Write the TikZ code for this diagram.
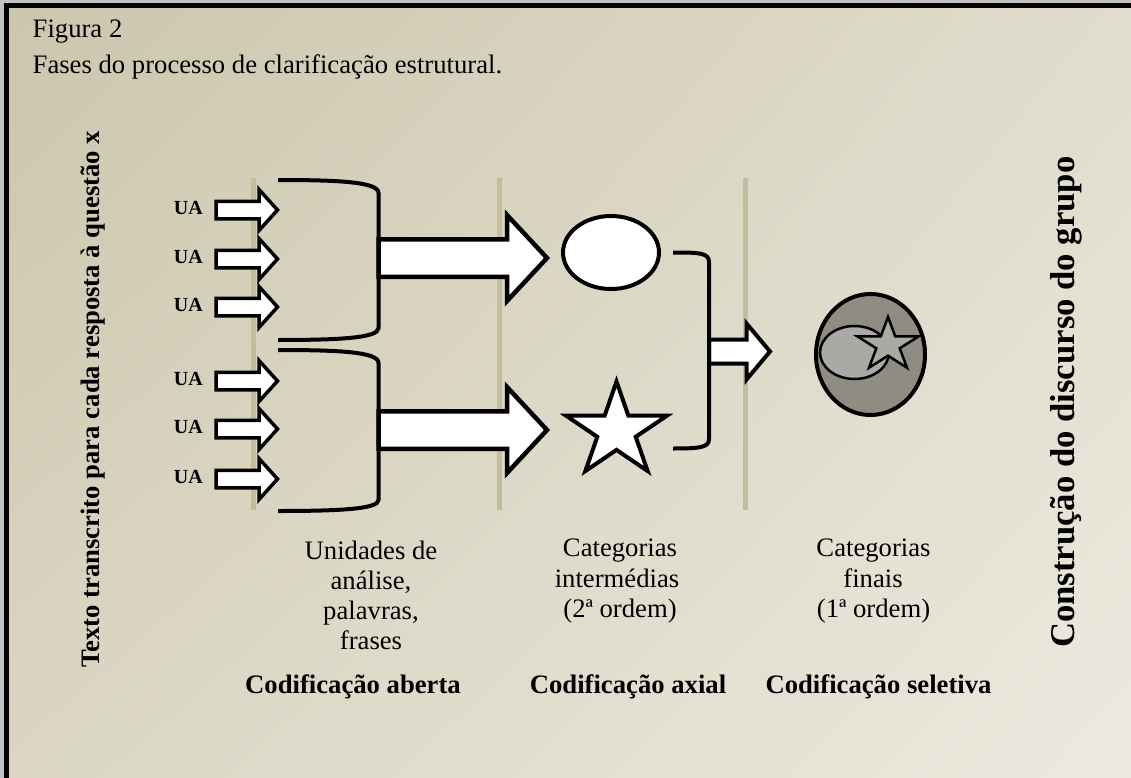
\documentclass[tikz,border=0pt]{standalone}
\usepackage{fontspec}
\setmainfont{Liberation Serif}
\usetikzlibrary{calc,shapes.geometric,shadings}
\definecolor{rulecol}{HTML}{C4BD9C}
\definecolor{bgA}{HTML}{CBC6AC}
\definecolor{bgB}{HTML}{E1DDCD}
\definecolor{bgC}{HTML}{DAD6C3}
\definecolor{bgD}{HTML}{ECE9DF}
\definecolor{edgegray}{HTML}{C2C2C2}
\definecolor{darkfill}{HTML}{8F8C82}
\definecolor{lightfill}{HTML}{AAA9A5}
\newcommand\blockarrow[5]{%
  \draw[barrow] let \p1=(#1), \p2=(#2) in
    (\x1,\y1+#3) -- (\x2-#5,\y1+#3) -- (\x2-#5,\y1+#4) -- (\x2,\y1)
    -- (\x2-#5,\y1-#4) -- (\x2-#5,\y1-#3) -- (\x1,\y1-#3) -- cycle;}
\newcommand\starpath[5]{([shift={(-90:#2 and #3)}]#1) -- ([shift={(-54:#4 and #5)}]#1)
  -- ([shift={(-18:#2 and #3)}]#1) -- ([shift={(18:#4 and #5)}]#1)
  -- ([shift={(54:#2 and #3)}]#1) -- ([shift={(90:#4 and #5)}]#1)
  -- ([shift={(126:#2 and #3)}]#1) -- ([shift={(162:#4 and #5)}]#1)
  -- ([shift={(198:#2 and #3)}]#1) -- ([shift={(234:#4 and #5)}]#1) -- cycle}
\begin{document}
\begin{tikzpicture}[x=1pt,y=-1pt,
  txt/.style={inner sep=0pt, anchor=base, font=\fontsize{26.67}{30}\selectfont},
  btxt/.style={inner sep=0pt, anchor=base, font=\fontsize{26.67}{30}\selectfont\bfseries},
  ualab/.style={inner sep=0pt, anchor=base east, font=\fontsize{20}{24}\selectfont\bfseries},
  barrow/.style={draw=black, fill=white, line width=3.5pt, line join=miter},
  bracket/.style={draw=black, line width=4pt},
  phase/.style={draw=rulecol, line width=5pt}]
\useasboundingbox (0,0) rectangle (1131,778);
% frame and background
\fill[edgegray] (0,0) rectangle (1131,778);
\fill[black] (3.5,3.5) rectangle (1131,778);
\shade[upper left=bgA, upper right=bgB, lower left=bgC, lower right=bgD] (9,9) rectangle (1131,778);
% titles
\node[txt, anchor=base west] (fig) at (32.5,37.3) {Figura 2};
\node[txt, anchor=base west] (cap) at (32.5,74) {Fases do processo de clarificação estrutural.};
% side texts
\node[btxt, anchor=base west, rotate=90] (lefttxt) at (99.3,668) {Texto transcrito para cada resposta à questão x};
\node[inner sep=0pt, anchor=base west, rotate=90, font=\fontsize{34.67}{40}\selectfont\bfseries] (righttxt) at (1074,648) {Construção do discurso do grupo};
% phase lines
\coordinate (p1t) at (253.5,178); \coordinate (p1b) at (253.5,510);
\coordinate (p2t) at (499.5,178); \coordinate (p2b) at (499.5,510);
\coordinate (p3t) at (745.5,178); \coordinate (p3b) at (745.5,510);
\draw[phase] (p1t) -- (p1b);
\draw[phase] (p2t) -- (p2b);
\draw[phase] (p3t) -- (p3b);
% UA labels and arrows
\foreach \i/\yy in {1/210,2/259,3/307,4/381,5/429,6/479}{
  \node[ualab] (ua\i) at (203,\yy+4.5) {UA};
  \coordinate (ua\i s) at (216,\yy);
  \coordinate (ua\i t) at (277.5,\yy);
  \blockarrow{ua\i s}{ua\i t}{8.75pt}{20.5pt}{18.5pt}
}
% big arrows
\coordinate (bAs) at (378.5,258); \coordinate (bAt) at (547,258);
\coordinate (bBs) at (378.5,430); \coordinate (bBt) at (547,430);
\begin{scope}[barrow/.append style={line width=4.5pt}]
\blockarrow{bAs}{bAt}{18.75pt}{43pt}{40pt}
\blockarrow{bBs}{bBt}{18.75pt}{43pt}{40pt}
\end{scope}
% small arrow to final
\coordinate (sms) at (709,351.5); \coordinate (smt) at (770,351.5);
\begin{scope}[barrow/.append style={line width=4pt}]
\blockarrow{sms}{smt}{12pt}{28pt}{23.5pt}
\end{scope}
% brackets
\draw[bracket] (278,180) .. controls (340,180) and (378.5,182) .. (378.5,193) -- (378.5,328) .. controls (378.5,338) and (340,340) .. (278,340);
\draw[bracket] (278,350) .. controls (340,350) and (378.5,352) .. (378.5,363) -- (378.5,500) .. controls (378.5,509) and (340,511) .. (278,511);
\draw[bracket] (673,252.5) .. controls (700,252.5) and (709,253) .. (709,262) -- (709,439) .. controls (709,447.5) and (700,448.5) .. (673,448.5);
% intermediate categories
\node[ellipse, draw=black, fill=white, line width=4pt, minimum width=96pt, minimum height=73pt, inner sep=0pt] (ellA) at (611,252.5) {};
\coordinate (starA) at (616.5,431);
\draw[draw=black, fill=white, line width=4pt] \starpath{starA}{53}{49.5}{20.2}{18.9};
% final category
\node[ellipse, draw=black, fill=darkfill, line width=4pt, minimum width=109pt, minimum height=121pt, inner sep=0pt] (fin) at (870.5,354.5) {};
\node[ellipse, draw=black, fill=lightfill, line width=2.5pt, minimum width=69pt, minimum height=53pt, inner sep=0pt] (finell) at (854.5,352.5) {};
\coordinate (finstar) at (888,345);
\draw[draw=black, fill=lightfill, line width=2.5pt] \starpath{finstar}{32.3}{28.1}{12.3}{10.7};
% labels
\node[txt] (l1a) at (371,559) {Unidades de};
\node[txt] (l1b) at (371,589.5) {análise,};
\node[txt] (l1c) at (371,619.5) {palavras,};
\node[txt] (l1d) at (371,649) {frases};
\node[txt] (l2a) at (620,556) {Categorias};
\node[txt] (l2b) at (617,587) {intermédias};
\node[txt] (l2c) at (620,617) {(2ª ordem)};
\node[txt] (l3a) at (873.5,556) {Categorias};
\node[txt] (l3b) at (873,587) {finais};
\node[txt] (l3c) at (873.5,617) {(1ª ordem)};
\node[btxt] (c1) at (353,693) {Codificação aberta};
\node[btxt] (c2) at (628,693) {Codificação axial};
\node[btxt] (c3) at (878.5,693) {Codificação seletiva};
\end{tikzpicture}
\end{document}
